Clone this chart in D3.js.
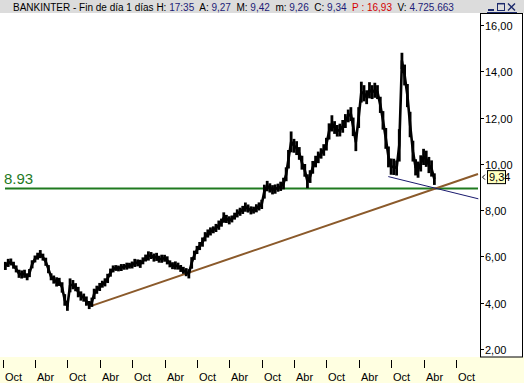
<!DOCTYPE html>
<html><head><meta charset="utf-8">
<script src="https://cdn.jsdelivr.net/npm/d3@7"></script>
<style>
body{margin:0;background:#fff;overflow:hidden}
svg{display:block;font-family:"Liberation Sans",Arial,sans-serif}
</style>
</head><body><svg id="c" width="524" height="383"></svg>
<script>
// ---- data ----
const startDate = "2001-10-16";   // first half-month sample
const endDate   = "2008-06-01";   // last half-month sample
const closes = [
 5.59,5.72,5.76,5.62,5.46,5.25,5.22,5.25,5.12,5.28,
 5.66,5.89,6.01,6.10,5.97,5.77,5.45,5.12,5.00,4.90,
 4.90,4.66,4.12,3.85,4.75,4.78,4.67,4.46,4.29,4.22,
 4.07,3.90,4.02,4.38,4.56,4.68,4.80,4.88,5.05,5.30,
 5.46,5.50,5.48,5.52,5.55,5.58,5.60,5.63,5.72,5.72,
 5.68,5.81,5.93,6.02,6.04,5.95,5.98,5.88,5.90,5.92,
 5.83,5.68,5.60,5.61,5.58,5.48,5.40,5.32,5.25,5.72,
 6.05,6.28,6.45,6.62,6.85,6.99,7.08,7.15,7.23,7.35,
 7.46,7.68,7.62,7.56,7.62,7.74,7.86,7.93,8.01,8.13,
 8.07,7.99,8.00,8.08,8.16,8.25,8.80,9.04,8.96,8.88,
 8.91,8.97,9.03,9.15,9.55,10.20,10.95,10.78,10.68,10.45,
 10.05,9.72,9.25,9.45,9.85,10.10,10.28,10.45,10.60,10.85,
 11.40,11.75,11.57,11.43,11.46,11.62,11.85,12.07,12.15,11.60,
 10.95,12.00,13.10,13.05,12.88,13.18,13.10,13.18,13.10,12.55,
 11.88,11.10,10.30,9.88,9.87,9.82,10.80,14.45,13.84,12.95,
 11.70,10.55,9.85,9.75,10.02,10.30,10.22,9.95,9.80,9.34
];
const ranges = [
 0.35,0.35,0.30,0.30,0.30,0.35,0.35,0.35,0.30,0.35,
 0.35,0.30,0.30,0.35,0.30,0.35,0.35,0.30,0.35,0.40,
 0.35,0.45,0.50,0.40,0.60,0.40,0.35,0.45,0.40,0.35,
 0.40,0.35,0.40,0.45,0.35,0.35,0.30,0.35,0.40,0.35,
 0.30,0.25,0.25,0.30,0.25,0.30,0.25,0.30,0.35,0.30,
 0.35,0.30,0.30,0.40,0.30,0.35,0.35,0.30,0.35,0.30,
 0.35,0.30,0.30,0.35,0.30,0.30,0.30,0.35,0.40,0.50,
 0.40,0.35,0.35,0.40,0.40,0.35,0.35,0.30,0.35,0.40,
 0.35,0.45,0.35,0.35,0.30,0.30,0.35,0.35,0.35,0.40,
 0.35,0.35,0.30,0.35,0.35,0.40,0.60,0.45,0.40,0.40,
 0.40,0.35,0.40,0.50,0.60,0.80,0.90,0.60,0.60,0.55,
 0.60,0.55,0.60,0.55,0.55,0.50,0.50,0.45,0.50,0.55,
 0.70,0.70,0.55,0.50,0.55,0.55,0.60,0.55,0.60,0.80,
 0.80,0.90,0.90,0.70,0.60,0.70,0.60,0.65,0.60,0.70,
 0.80,0.90,0.90,0.70,0.70,0.65,1.40,0.70,0.90,1.00,
 1.10,0.90,0.70,0.70,0.70,0.70,0.70,0.70,0.70,0.50
];
const tickDates = ["2001-10-01","2002-04-01","2002-10-01","2003-04-01","2003-10-01",
 "2004-04-01","2004-10-01","2005-04-01","2005-10-01","2006-04-01","2006-10-01",
 "2007-04-01","2007-10-01","2008-04-01","2008-10-01"];
const tickLabels = ["Oct","Abr","Oct","Abr","Oct","Abr","Oct","Abr","Oct","Abr","Oct","Abr","Oct","Abr","Oct"];
const yTicks = [2,4,6,8,10,12,14,16];
const supportLevel = 8.93;
const lastClose = 9.34;
const trendUp   = [["2003-02-05",3.84],["2009-02-02",9.56]];
const trendDown = [["2007-09-15",9.45],["2009-02-04",8.49]];
const headerParts = [
 ["BANKINTER - Fin de día 1 días ","k"],["H: ","k"],["17:35","v"],["  A: ","k"],["9,27","v"],
 ["  M: ","k"],["9,42","v"],["  m: ","k"],["9,26","v"],["  C: ","k"],["9,34","v"],
 ["  P : ","r"],["16,93","r"],["  V: ","k"],["4.725.663","v"]
];

// ---- build ----
const parse = d3.timeParse("%Y-%m-%d");
const s0 = parse(startDate), s1 = parse(endDate);
const dates = [];
for (let m = d3.timeMonth.floor(s0); m <= s1; m = d3.timeMonth.offset(m, 1)) {
  [1, 16].forEach(d => {
    const dt = new Date(m.getFullYear(), m.getMonth(), d);
    if (dt >= s0 && dt <= s1) dates.push(dt);
  });
}
const data = dates.map((d, i) => ({date: d, c: closes[i], r: ranges[i]})).filter(d => d.c != null);

const svg = d3.select("#c");
const x = d3.scaleTime().domain([parse("2001-10-01"), parse("2008-10-01")]).range([2.7, 456]);
const y = d3.scaleLinear().domain([2, 16]).range([349, 25]);
const fmt = v => d3.format(".2f")(v).replace(".", ",");

// header bar
svg.append("rect").attr("x", 0).attr("y", 0).attr("width", 524).attr("height", 13).attr("fill", "#dcdcdc");
const colors = {k: "#000", v: "#1c1c78", r: "#d40000"};
const ht = svg.append("text").attr("x", 13).attr("y", 10.5).attr("font-size", 10).attr("xml:space", "preserve");
headerParts.forEach(p => ht.append("tspan").attr("fill", colors[p[1]]).text(p[0]));
// window buttons
const wb = svg.append("g").attr("stroke", "#1c2a6c").attr("fill", "none");
wb.append("line").attr("x1", 488).attr("x2", 494).attr("y1", 10).attr("y2", 10).attr("stroke-width", 2);
wb.append("rect").attr("x", 497.5).attr("y", 3.5).attr("width", 7).attr("height", 7).attr("stroke-width", 1);
wb.append("line").attr("x1", 497.5).attr("x2", 504.5).attr("y1", 3.7).attr("y2", 3.7).attr("stroke-width", 1.5);
wb.append("path").attr("d", "M508,3.5L515,10.5M515,3.5L508,10.5").attr("stroke-width", 1.4);
wb.append("line").attr("x1", 487).attr("x2", 517).attr("y1", 12.5).attr("y2", 12.5).attr("stroke-width", 1);

// bottom yellow strip
svg.append("rect").attr("x", 0).attr("y", 357).attr("width", 524).attr("height", 26).attr("fill", "#ffffe1");
const xt = svg.append("g");
tickDates.forEach((t, i) => {
  const px = Math.round(x(parse(t))) + 0.5;
  xt.append("line").attr("x1", px).attr("x2", px).attr("y1", 360).attr("y2", 368).attr("stroke", "#000");
  xt.append("text").attr("x", px + 1.5).attr("y", 381).attr("font-size", 11).text(tickLabels[i]);
});

// right axis box
svg.append("rect").attr("x", 480.5).attr("y", 13.5).attr("width", 42).attr("height", 343.5)
  .attr("fill", "#fff").attr("stroke", "#000");
yTicks.forEach(v => {
  const py = Math.round(y(v)) + 0.5;
  svg.append("line").attr("x1", 480).attr("x2", 484).attr("y1", py).attr("y2", py).attr("stroke", "#000");
  svg.append("text").attr("x", 485).attr("y", py + 4).attr("font-size", 11).text(fmt(v));
});

// support line
const green = "#1f7a1f";
svg.append("line").attr("x1", 5).attr("x2", 478).attr("y1", y(supportLevel)).attr("y2", y(supportLevel))
  .attr("stroke", green).attr("stroke-width", 2);
svg.append("text").attr("x", 4).attr("y", y(supportLevel) - 5).attr("font-size", 15).attr("fill", green)
  .text(d3.format(".2f")(supportLevel));

// trend lines
const tl = d3.line().x(d => x(parse(d[0]))).y(d => y(d[1]));
svg.append("path").attr("d", tl(trendUp)).attr("stroke", "#8b5a2b").attr("stroke-width", 2).attr("fill", "none");
svg.append("path").attr("d", tl(trendDown)).attr("stroke", "#1a1a6e").attr("stroke-width", 1).attr("fill", "none");

// price: bars + line
const pg = svg.append("g");
pg.selectAll("line").data(data).join("line")
  .attr("x1", d => x(d.date)).attr("x2", d => x(d.date))
  .attr("y1", d => y(d.c + d.r / 2)).attr("y2", d => y(d.c - d.r / 2))
  .attr("stroke", "#000").attr("stroke-width", 2.8);
pg.append("path").attr("d", d3.line().x(d => x(d.date)).y(d => y(d.c))(data))
  .attr("fill", "none").attr("stroke", "#000").attr("stroke-width", 2.6).attr("stroke-linejoin", "round");

// last value marker
const ly = y(lastClose) - 2;
svg.append("path").attr("d", `M485,${ly - 2.5}L482.5,${ly}L485,${ly + 2.5}`).attr("fill", "none").attr("stroke", "#000");
svg.append("rect").attr("x", 487.5).attr("y", ly - 6.5).attr("width", 18).attr("height", 13)
  .attr("fill", "#ffffc0").attr("stroke", "#000");
svg.append("text").attr("x", 489).attr("y", ly + 4).attr("font-size", 11).text(fmt(lastClose));
</script>
</body></html>
